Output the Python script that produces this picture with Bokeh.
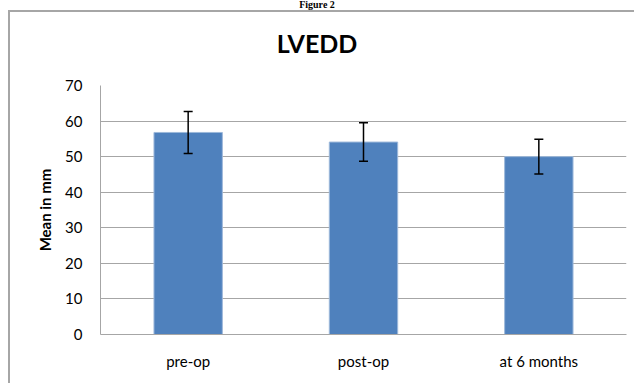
from bokeh.plotting import figure
from bokeh.models import ColumnDataSource, Whisker, TeeHead, FixedTicker, Div, InlineStyleSheet
from bokeh.layouts import column
from bokeh.embed import file_html
from bokeh.resources import INLINE

chart_title = "LVEDD"
caption_text = "Figure 2"
categories = ["pre-op", "post-op", "at 6 months"]
means = [56.8, 54.1, 50.0]
errors = [5.9, 5.4, 4.9]
y_ticks = [0, 10, 20, 30, 40, 50, 60, 70]

lower = [m - e for m, e in zip(means, errors)]
upper = [m + e for m, e in zip(means, errors)]
src = ColumnDataSource(dict(cat=categories, mean=means, lower=lower, upper=upper))

FONT = "Lato"
p = figure(x_range=categories, y_range=(0, 70), width=634, height=308,
           output_backend="svg", toolbar_location=None,
           frame_width=526, frame_height=249,
           min_border_left=100, min_border_right=8, min_border_top=10, min_border_bottom=49,
           margin=0)
p.outline_line_color = None
p.background_fill_color = "white"
p.border_fill_color = "white"

p.vbar(x="cat", top="mean", width=0.39, source=src, fill_color="#4f81bd",
       line_color="#9db8da", line_width=1)

w = Whisker(source=src, base="cat", lower="lower", upper="upper",
            line_color="black", line_width=1.5, level="overlay",
            upper_head=TeeHead(size=9, line_color="black", line_width=1.5),
            lower_head=TeeHead(size=9, line_color="black", line_width=1.5))
p.add_layout(w)

p.yaxis.ticker = FixedTicker(ticks=y_ticks)
p.ygrid.ticker = FixedTicker(ticks=y_ticks)
p.ygrid.grid_line_color = "#a6a6a6"
p.ygrid.grid_line_width = 1
p.xgrid.grid_line_color = None

for ax in (p.xaxis, p.yaxis):
    ax.axis_line_color = "#a6a6a6"
    ax.axis_line_width = 1
    ax.major_tick_line_color = None
    ax.minor_tick_line_color = None
    ax.major_label_text_font = FONT
    ax.major_label_text_font_size = "15px"
    ax.major_label_text_color = "black"

p.yaxis.major_label_standoff = 12
p.xaxis.major_label_standoff = 11
p.yaxis.axis_label = "Mean in mm"
p.yaxis.axis_label_text_font = FONT
p.yaxis.axis_label_text_font_style = "bold"
p.yaxis.axis_label_text_font_size = "15px"
p.yaxis.axis_label_text_color = "black"
p.yaxis.axis_label_standoff = 8

header_html = (
    '<div style="position:relative;width:634px;height:75px;">'
    '<div style="position:absolute;left:0;top:0;width:634px;text-align:center;'
    "font-family:'Liberation Serif',serif;font-weight:bold;font-size:10px;line-height:10px;"
    'color:black;">' + caption_text + '</div>'
    '<div style="position:absolute;left:0;top:31px;width:634px;text-align:center;'
    "font-family:'Lato',sans-serif;font-weight:bold;font-size:25px;line-height:25px;"
    'color:black;">' + chart_title + '</div>'
    '</div>'
)
header = Div(text=header_html, width=634, height=75, margin=0)

layout = column(header, p, spacing=0, margin=0)
# chart-area border (left and top edges; right/bottom lie beyond the picture)
layout.stylesheets = [InlineStyleSheet(css="""
:host { position: relative; }
:host::after {
  content: ""; position: absolute; left: 8px; top: 10px; width: 700px; height: 500px;
  border-left: 2px solid #a6a6a6; border-top: 2px solid #a6a6a6;
  pointer-events: none; box-sizing: border-box;
}
""")]

open("out.html", "w").write(file_html(layout, INLINE))
